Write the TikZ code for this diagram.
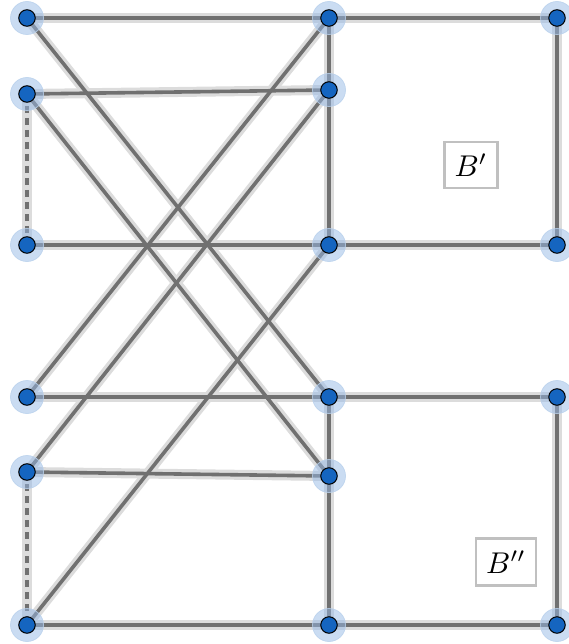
\documentclass[tikz,border=0pt]{standalone}
\usepackage{graphicx}
\usepackage{tikz}
\definecolor{vertexblue}{RGB}{21,101,192}
\definecolor{vertexhalo}{RGB}{150,185,230}
\definecolor{edgedark}{RGB}{112,112,112}
\definecolor{edgehalo}{RGB}{220,220,220}
\definecolor{labelframe}{RGB}{192,192,192}
\pgfdeclarelayer{halo}
\pgfdeclarelayer{edges}
\pgfsetlayers{halo,edges,main}
\newcommand{\graphvertex}[3]{%
  \filldraw[fill=vertexhalo,fill opacity=0.5,draw=vertexblue!30,draw opacity=0.8,line width=0.8pt] (#2,#3) circle (16.5pt);%
  \node[vertex] (#1) at (#2,#3) {};%
}
\newcommand{\graphedge}[3][]{%
  \begin{pgfonlayer}{halo}\draw[line width=10pt,edgehalo] (#2.center) -- (#3.center);\end{pgfonlayer}%
  \begin{pgfonlayer}{edges}\draw[line width=3.6pt,edgedark,#1] (#2.center) -- (#3.center);\end{pgfonlayer}%
}
\newcommand{\blocklabel}[1]{\scalebox{3}{$#1$}}

\begin{document}
\begin{tikzpicture}[x=1pt,y=-1pt,
  vertex/.style={circle,draw=black,line width=1pt,fill=vertexblue,minimum size=16.5pt,inner sep=0pt},
  labelbox/.style={draw=labelframe,line width=2.2pt,fill=white,inner sep=0pt}]
  \useasboundingbox (0,0) rectangle (568,644);
  \graphvertex{l1}{27}{18}
  \graphvertex{l2}{27}{94}
  \graphvertex{l3}{27}{245}
  \graphvertex{l4}{27}{397}
  \graphvertex{l5}{27}{472}
  \graphvertex{l6}{27}{625}
  \graphvertex{m1}{329}{18}
  \graphvertex{m2}{329}{90}
  \graphvertex{m3}{329}{245}
  \graphvertex{m4}{329}{397}
  \graphvertex{m5}{329}{476}
  \graphvertex{m6}{329}{625}
  \graphvertex{r1}{557}{18}
  \graphvertex{r2}{557}{245}
  \graphvertex{r3}{557}{397}
  \graphvertex{r4}{557}{625}
  \foreach \a/\b in {l1/m1,m1/r1,r1/r2,m1/m3,m3/r2,l1/m4,l2/m2,l2/m5,l3/m3,l4/m1,
                     l4/m4,m4/r3,r3/r4,m4/m6,l5/m2,l5/m5,l6/m3,l6/m6,m6/r4}
    {\graphedge{\a}{\b}}
  \graphedge[dash pattern=on 7pt off 5pt]{l2}{l3}
  \graphedge[dash pattern=on 7pt off 5pt]{l5}{l6}
  \node[labelbox,minimum width=53pt,minimum height=46pt] (bupper) at (471,165) {\blocklabel{B'}};
  \node[labelbox,minimum width=60pt,minimum height=47pt] (blower) at (506,562) {\blocklabel{B''}};
\end{tikzpicture}
\end{document}
